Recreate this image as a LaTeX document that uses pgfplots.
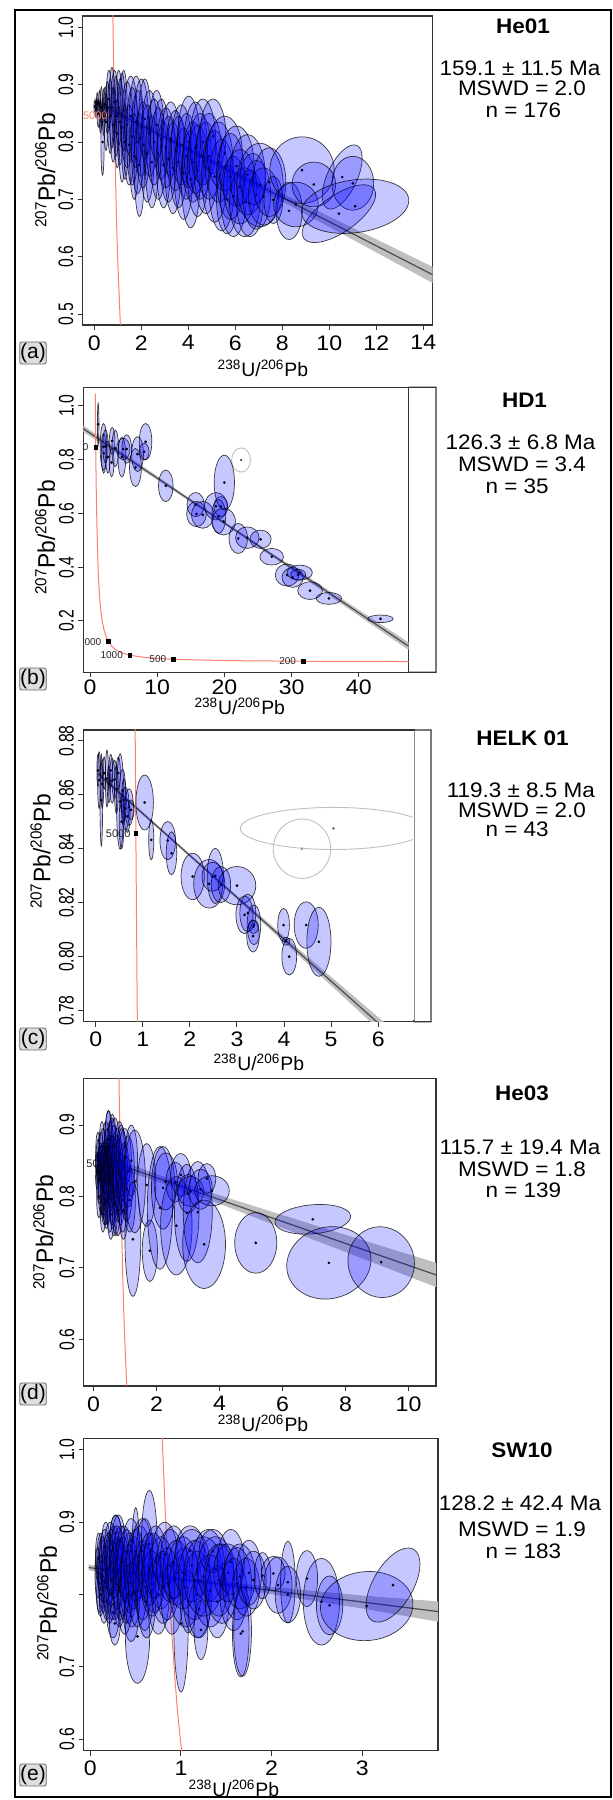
\documentclass[border=0pt]{standalone}
\usepackage{fontspec}
\setmainfont{Liberation Sans}
\usepackage{pgfplots}
\usepackage{pgfplotstable}
\pgfplotsset{compat=1.18}

\definecolor{salmonc}{RGB}{250,128,114}
\definecolor{framec}{gray}{0.2}
\newcommand\fsz[1]{\fontsize{#1}{#1}\selectfont}
\def\ellparse#1/#2/#3\relax{\def\erx{#1}\def\ery{#2}\def\eang{#3}}

% ---------------- concordia (Tera-Wasserburg) ----------------
\pgfplotstableread{
x y
0.78407 1.04607
0.80623 0.97425
0.82925 0.90752
0.85326 0.84568
0.87837 0.78834
0.90453 0.73509
0.93181 0.68552
0.96036 0.63960
0.99507 0.59696
1.1630 0.42521
1.2672 0.36020
1.3869 0.30598
1.5254 0.26066
1.6873 0.22274
1.8797 0.19103
2.111 0.16436
2.3942 0.14194
2.749 0.12305
3.2063 0.10712
3.817 0.09365
4.6733 0.08223
5.959 0.07253
8.105 0.06428
12.40 0.05725
20.99 0.05236
31.73 0.05013
63.97 0.04804
}\concT

\pgfplotstableread{
x y lab
0.85326 0.84568 5000
}\labFive

\pgfplotstableread{
x y lab
0.85326 0.84568 5000
2.749 0.12305 2000
5.959 0.07253 1000
12.40 0.05725 500
31.73 0.05013 200
}\labB

% ---------------- ellipses: x y rx/ry/angle ----------------
\pgfplotstableread{
x y m
0.02 0.862 0.04/0.010/0
0.08 0.858 0.04/0.016/0
0.12 0.866 0.03/0.020/0
0.17 0.850 0.05/0.024/0
0.22 0.868 0.04/0.022/0
0.26 0.846 0.05/0.030/0
0.30 0.860 0.05/0.036/0
0.35 0.800 0.07/0.058/0
0.40 0.852 0.06/0.040/0
0.46 0.866 0.07/0.030/0
0.50 0.835 0.08/0.050/0
0.56 0.860 0.09/0.045/0
0.62 0.875 0.11/0.050/0
0.68 0.845 0.12/0.065/0
0.75 0.860 0.12/0.070/0
0.80 0.830 0.13/0.065/0
0.86 0.870 0.14/0.055/0
0.92 0.845 0.13/0.070/0
0.98 0.815 0.12/0.060/0
1.04 0.860 0.15/0.065/0
1.10 0.835 0.15/0.075/0
1.18 0.825 0.16/0.095/0
1.25 0.855 0.15/0.070/0
1.30 0.800 0.14/0.065/0
1.40 0.830 0.25/0.075/0
1.48 0.795 0.22/0.070/0
1.55 0.845 0.28/0.070/0
1.62 0.810 0.25/0.085/0
1.70 0.775 0.20/0.075/0
1.78 0.835 0.30/0.080/0
1.85 0.800 0.28/0.090/0
1.92 0.760 0.22/0.090/0
2.00 0.825 0.32/0.085/0
2.08 0.795 0.30/0.075/0
2.15 0.840 0.26/0.070/0
2.25 0.780 0.30/0.085/0
2.35 0.815 0.33/0.075/0
2.45 0.765 0.28/0.080/0
2.55 0.800 0.35/0.075/0
2.65 0.830 0.30/0.060/0
2.72 0.780 0.35/0.080/0
2.85 0.805 0.33/0.070/0
2.95 0.760 0.30/0.075/0
3.05 0.790 0.38/0.070/0
3.15 0.770 0.35/0.075/0
3.25 0.805 0.40/0.065/0
3.35 0.755 0.35/0.080/0
3.45 0.785 0.40/0.070/0
3.58 0.765 0.38/0.080/0
3.70 0.795 0.42/0.070/0
3.80 0.745 0.40/0.080/0
3.92 0.775 0.45/0.075/0
4.02 0.800 0.48/0.080/0
4.10 0.735 0.40/0.085/0
4.20 0.765 0.45/0.070/0
4.30 0.790 0.50/0.080/0
4.40 0.750 0.45/0.080/0
4.50 0.775 0.48/0.075/0
4.62 0.800 0.55/0.075/0
4.75 0.755 0.50/0.080/0
4.88 0.775 0.55/0.075/0
5.05 0.810 0.55/0.065/0
5.12 0.740 0.55/0.080/0
5.30 0.765 0.60/0.070/0
5.42 0.725 0.55/0.080/0
5.55 0.780 0.75/0.065/0
5.65 0.700 0.45/0.060/0
5.80 0.740 0.60/0.075/0
5.92 0.705 0.55/0.070/0
6.05 0.758 0.75/0.070/0
6.20 0.722 0.70/0.065/0
6.40 0.695 0.65/0.060/0
6.52 0.743 0.75/0.070/0
6.62 0.693 0.56/0.058/0
6.75 0.735 0.55/0.045/0
6.90 0.708 0.60/0.060/0
7.05 0.725 0.99/0.073/0
7.20 0.705 0.65/0.050/0
7.45 0.730 0.70/0.060/0
7.62 0.699 0.40/0.041/0
8.29 0.680 0.56/0.050/0
8.84 0.751 1.37/0.058/0
8.58 0.691 0.95/0.039/0
9.34 0.726 0.93/0.039/0
10.55 0.739 1.48/0.026/65
11.00 0.728 0.89/0.047/0
10.41 0.675 1.83/0.032/35
11.10 0.688 2.30/0.046/8
}\ellA

\pgfplotstableread{
x y m
1.216 0.932 0.114/0.078/0
2.014 0.848 0.498/0.087/0
2.046 0.824 0.353/0.074/0
2.305 0.850 0.394/0.062/0
2.668 0.810 0.311/0.060/0
3.218 0.790 0.353/0.053/0
3.290 0.870 0.415/0.050/0
3.757 0.842 0.498/0.068/0
4.742 0.810 0.581/0.074/0
4.950 0.840 0.996/0.040/0
5.468 0.840 0.726/0.053/0
6.765 0.771 0.882/0.071/0
7.076 0.821 0.882/0.065/0
8.061 0.830 0.726/0.031/0
8.269 0.867 0.933/0.068/0
11.277 0.703 1.079/0.059/0
15.726 0.633 1.286/0.045/0
15.840 0.598 1.462/0.047/0
16.774 0.595 1.660/0.050/0
18.745 0.627 1.691/0.051/0
19.471 0.626 1.027/0.037/0
19.159 0.589 1.027/0.063/0
19.885 0.570 1.753/0.050/0
19.989 0.715 1.514/0.102/0
22.063 0.507 1.369/0.056/0
23.412 0.510 1.753/0.040/0
25.382 0.504 1.577/0.034/0
27.042 0.439 1.753/0.031/0
29.324 0.371 1.753/0.041/0
30.154 0.362 1.577/0.037/0
31.191 0.380 1.898/0.028/0
30.983 0.372 1.110/0.020/0
32.747 0.313 1.836/0.033/0
35.547 0.284 1.898/0.022/0
43.222 0.208 1.898/0.014/0
}\ellB

\pgfplotstableread{
x y m
22.478 0.799 1.400/0.045/0
}\exB

\pgfplotstableread{
x y m
-0.28 0.857 0.065/0.0058/0
0.074 0.8654 0.033/0.0105/0
0.12 0.858 0.028/0.017/0
0.05 0.869 0.025/0.006/0
0.14 0.864 0.03/0.009/0
0.18 0.868 0.03/0.006/0
0.24 0.866 0.033/0.0105/0
0.28 0.864 0.035/0.007/0
0.32 0.869 0.04/0.006/0
0.35 0.8652 0.058/0.0083/0
0.40 0.8657 0.054/0.0071/0
0.44 0.862 0.04/0.009/0
0.48 0.868 0.045/0.006/0
0.52 0.8575 0.078/0.0177/0
0.55 0.850 0.05/0.010/0
0.57 0.8615 0.062/0.008/0
0.60 0.858 0.05/0.008/0
0.63 0.8549 0.083/0.008/0
0.67 0.852 0.06/0.006/0
0.71 0.8554 0.091/0.0068/0
0.75 0.8544 0.066/0.0037/0
1.04 0.8571 0.186/0.0102/0
1.18 0.8433 0.054/0.0074/0
1.53 0.8430 0.165/0.0071/0
1.61 0.8383 0.111/0.008/0
2.06 0.8297 0.248/0.0086/0
2.41 0.8270 0.330/0.009/0
2.48 0.8296 0.223/0.0054/0
2.54 0.8299 0.173/0.0102/0
2.66 0.8267 0.206/0.0067/0
3.00 0.8263 0.40/0.0071/0
3.16 0.8155 0.182/0.007/0
3.23 0.8162 0.169/0.007/0
3.36 0.8118 0.145/0.0074/0
3.35 0.8111 0.107/0.0025/0
3.34 0.8076 0.132/0.0059/0
3.99 0.8117 0.124/0.0062/0
4.04 0.8057 0.083/0.0015/0
4.11 0.8000 0.157/0.0068/0
4.47 0.8117 0.256/0.0086/0
4.74 0.8055 0.256/0.0128/0
}\ellC

\pgfplotstableread{
x y m
4.38 0.840 0.61/0.011/0
5.05 0.8475 1.98/0.0078/0
}\exC

\pgfplotstableread{
x y m
0.12 0.835 0.06/0.025/0
0.14 0.860 0.07/0.030/0
0.15 0.850 0.07/0.030/0
0.17 0.800 0.07/0.030/0
0.18 0.825 0.08/0.035/0
0.20 0.845 0.08/0.025/0
0.22 0.835 0.09/0.040/0
0.23 0.860 0.09/0.030/0
0.25 0.815 0.10/0.040/0
0.27 0.870 0.09/0.035/0
0.28 0.840 0.10/0.035/0
0.30 0.855 0.12/0.040/0
0.30 0.775 0.08/0.025/0
0.31 0.810 0.10/0.040/0
0.33 0.825 0.10/0.045/0
0.35 0.845 0.12/0.030/0
0.35 0.790 0.10/0.030/0
0.37 0.835 0.11/0.045/0
0.38 0.805 0.10/0.045/0
0.40 0.860 0.13/0.045/0
0.41 0.795 0.10/0.040/0
0.42 0.830 0.12/0.040/0
0.44 0.850 0.12/0.045/0
0.45 0.815 0.12/0.055/0
0.47 0.880 0.10/0.040/0
0.48 0.870 0.13/0.050/0
0.49 0.820 0.13/0.050/0
0.50 0.845 0.14/0.040/0
0.52 0.800 0.12/0.050/0
0.53 0.865 0.12/0.040/0
0.55 0.830 0.15/0.045/0
0.55 0.775 0.11/0.035/0
0.57 0.840 0.13/0.045/0
0.58 0.860 0.14/0.050/0
0.60 0.815 0.13/0.055/0
0.60 0.870 0.12/0.045/0
0.62 0.805 0.13/0.050/0
0.63 0.845 0.15/0.040/0
0.65 0.790 0.12/0.045/0
0.66 0.855 0.14/0.045/0
0.68 0.870 0.15/0.040/0
0.70 0.825 0.16/0.050/0
0.72 0.800 0.13/0.055/0
0.73 0.835 0.15/0.050/0
0.75 0.850 0.16/0.045/0
0.77 0.815 0.14/0.050/0
0.78 0.780 0.12/0.035/0
0.80 0.830 0.17/0.050/0
0.83 0.860 0.16/0.045/0
0.86 0.810 0.15/0.050/0
0.88 0.850 0.16/0.050/0
0.90 0.840 0.18/0.055/0
0.93 0.795 0.15/0.045/0
0.95 0.780 0.14/0.040/0
0.97 0.825 0.18/0.050/0
1.00 0.855 0.20/0.040/0
1.05 0.810 0.18/0.045/0
1.10 0.835 0.20/0.050/0
1.15 0.795 0.18/0.045/0
1.20 0.850 0.20/0.050/0
1.25 0.740 0.25/0.080/0
1.31 0.821 0.34/0.072/0
1.69 0.816 0.29/0.058/0
1.79 0.724 0.24/0.043/0
2.11 0.784 0.40/0.086/0
2.21 0.812 0.37/0.058/0
2.29 0.821 0.37/0.040/0
2.60 0.820 0.30/0.028/0
2.63 0.759 0.50/0.069/0
2.77 0.830 0.32/0.030/0
2.96 0.777 0.39/0.068/0
3.00 0.804 0.32/0.027/0
3.08 0.807 0.42/0.021/0
3.31 0.778 0.46/0.071/0
3.40 0.810 0.37/0.028/0
3.51 0.733 0.68/0.062/0
3.60 0.825 0.28/0.021/0
3.76 0.808 0.55/0.021/0
5.15 0.735 0.667/0.0425/0
6.96 0.768 1.206/0.0203/5
7.47 0.707 1.35/0.050/15
9.13 0.708 1.05/0.0497/15
}\ellD

\pgfplotstableread{
x y m
0.08 0.830 0.03/0.035/0
0.09 0.850 0.035/0.035/0
0.10 0.815 0.04/0.040/0
0.11 0.800 0.04/0.030/0
0.12 0.845 0.05/0.040/0
0.13 0.835 0.05/0.045/0
0.14 0.825 0.05/0.050/0
0.15 0.790 0.05/0.030/0
0.16 0.850 0.06/0.040/0
0.17 0.865 0.05/0.035/0
0.18 0.810 0.06/0.045/0
0.19 0.825 0.06/0.050/0
0.20 0.835 0.07/0.050/0
0.21 0.800 0.06/0.040/0
0.22 0.860 0.07/0.040/0
0.23 0.845 0.07/0.045/0
0.24 0.820 0.07/0.055/0
0.25 0.775 0.07/0.035/0
0.26 0.845 0.08/0.050/0
0.27 0.815 0.07/0.050/0
0.27 0.760 0.06/0.030/0
0.28 0.870 0.07/0.040/0
0.28 0.885 0.06/0.025/0
0.29 0.850 0.08/0.045/0
0.30 0.830 0.08/0.050/0
0.31 0.875 0.07/0.035/0
0.32 0.805 0.07/0.050/0
0.33 0.820 0.08/0.055/0
0.34 0.850 0.09/0.045/0
0.36 0.825 0.08/0.055/0
0.37 0.845 0.09/0.050/0
0.38 0.790 0.08/0.045/0
0.39 0.810 0.08/0.050/0
0.40 0.840 0.10/0.050/0
0.42 0.815 0.09/0.055/0
0.43 0.830 0.09/0.055/0
0.45 0.860 0.10/0.045/0
0.45 0.770 0.08/0.035/0
0.46 0.800 0.09/0.045/0
0.48 0.830 0.10/0.050/0
0.50 0.860 0.04/0.060/0
0.50 0.840 0.10/0.050/0
0.52 0.742 0.134/0.065/0
0.52 0.805 0.10/0.050/0
0.55 0.845 0.12/0.050/0
0.57 0.860 0.11/0.045/0
0.58 0.820 0.11/0.055/0
0.60 0.865 0.09/0.040/0
0.60 0.810 0.10/0.060/0
0.62 0.790 0.10/0.050/0
0.65 0.870 0.087/0.074/0
0.65 0.835 0.12/0.050/0
0.68 0.815 0.12/0.045/0
0.70 0.830 0.13/0.055/0
0.72 0.845 0.13/0.050/0
0.75 0.800 0.12/0.055/0
0.78 0.830 0.14/0.050/0
0.80 0.810 0.13/0.050/0
0.82 0.855 0.14/0.045/0
0.85 0.815 0.13/0.050/0
0.88 0.840 0.15/0.050/0
0.90 0.795 0.12/0.050/0
0.92 0.845 0.15/0.050/0
0.95 0.830 0.15/0.045/0
1.00 0.760 0.08/0.095/0
1.02 0.830 0.17/0.050/0
1.05 0.810 0.18/0.055/0
1.08 0.790 0.09/0.043/0
1.10 0.860 0.16/0.035/0
1.12 0.840 0.20/0.050/0
1.15 0.820 0.18/0.055/0
1.18 0.800 0.16/0.060/0
1.20 0.780 0.12/0.040/0
1.22 0.751 0.076/0.041/0
1.25 0.825 0.22/0.055/0
1.30 0.840 0.18/0.050/0
1.32 0.805 0.18/0.050/0
1.35 0.860 0.15/0.030/0
1.38 0.835 0.20/0.045/0
1.40 0.790 0.13/0.050/0
1.42 0.820 0.17/0.050/0
1.45 0.815 0.18/0.055/0
1.52 0.830 0.16/0.040/0
1.55 0.845 0.15/0.045/0
1.58 0.800 0.15/0.050/0
1.62 0.815 0.16/0.050/0
1.65 0.825 0.17/0.045/0
1.66 0.746 0.092/0.060/0
1.68 0.749 0.098/0.062/0
1.72 0.810 0.15/0.040/0
1.75 0.830 0.14/0.045/0
1.80 0.820 0.14/0.040/0
1.90 0.826 0.092/0.032/0
2.02 0.829 0.13/0.024/0
2.07 0.813 0.156/0.039/0
2.18 0.817 0.081/0.0565/0
2.18 0.800 0.14/0.039/0
2.39 0.822 0.118/0.0387/0
2.55 0.790 0.20/0.060/0
2.64 0.785 0.145/0.0406/0
3.05 0.784 0.511/0.0477/5
3.34 0.813 0.456/0.0277/60
}\ellE

% ---------------- styles ----------------
\pgfplotsset{
  tw/.style={
    scale only axis, anchor=north west, clip marker paths=true,
    axis line style={framec, line width=0.6pt},
    tick align=outside, tick pos=left, major tick length=2.5pt,
    every tick/.style={framec, line width=0.5pt},
    xticklabel style={font=\fsz{10.5}, inner sep=0pt, anchor=north, yshift=-2.5pt, xscale=1.1},
    yticklabel style={font=\fsz{10.5}, inner sep=0pt, xshift=-2pt, rotate=90, xscale=0.75, anchor=south},
    every axis x label/.style={font=\fsz{9.7}, inner sep=0pt, anchor=base},
    every axis y label/.style={font=\fsz{12}, inner sep=0pt, rotate=90, xscale=0.95, anchor=base},
    xlabel={\textsuperscript{238}U/\textsuperscript{206}Pb},
    ylabel={\textsuperscript{207}Pb/\textsuperscript{206}Pb},
  },
  ellblue/.style 2 args={
    only marks, scatter, point meta=explicit symbolic, mark=*, mark size=0.45pt,
    mark options={draw=black, fill=black},
    scatter/@post marker code/.code={},
    scatter/@pre marker code/.code={%
      \expandafter\ellparse\pgfplotspointmeta\relax
      \pgfmathsetmacro\rxpt{\erx*#1}%
      \pgfmathsetmacro\rypt{\ery*#2}%
      \pgfscope
      \pgftransformrotate{\eang}%
      \pgfpathellipse{\pgfpointorigin}{\pgfpoint{\rxpt pt}{0pt}}{\pgfpoint{0pt}{\rypt pt}}%
      \pgfsetfillcolor{blue}\pgfsetfillopacity{0.22}%
      \pgfsetstrokecolor{black}\pgfsetstrokeopacity{0.75}%
      \pgfsetlinewidth{0.35pt}%
      \pgfusepath{fill,stroke}%
      \endpgfscope
    },
  },
  ellgray/.style 2 args={
    only marks, scatter, point meta=explicit symbolic, mark=*, mark size=0.35pt,
    mark options={draw=black!70, fill=black!70},
    scatter/@post marker code/.code={},
    scatter/@pre marker code/.code={%
      \expandafter\ellparse\pgfplotspointmeta\relax
      \pgfmathsetmacro\rxpt{\erx*#1}%
      \pgfmathsetmacro\rypt{\ery*#2}%
      \pgfscope
      \pgftransformrotate{\eang}%
      \pgfpathellipse{\pgfpointorigin}{\pgfpoint{\rxpt pt}{0pt}}{\pgfpoint{0pt}{\rypt pt}}%
      \pgfsetstrokecolor{black!25}%
      \pgfsetlinewidth{0.45pt}%
      \pgfusepath{stroke}%
      \endpgfscope
    },
  },
  band/.style={draw=none, fill=black!25},
  regline/.style={black!70, line width=0.6pt},
  conc/.style={salmonc, line width=0.5pt},
  conclab/.style={only marks, mark=square*, mark size=0.9pt, mark options={black},
    point meta=explicit symbolic, nodes near coords,
    nodes near coords style={anchor=east, xshift=-2.5pt, inner sep=0pt, font=\fsz{5.5}, text=black!85}},
}

\begin{document}
\begin{tikzpicture}
\useasboundingbox (0,0) rectangle (306.5pt,900pt);
\draw[line width=1.1pt] (7.5pt,895pt) rectangle (305.5pt,1.5pt);

% ================= (a) =================
\begin{axis}[tw, at={(41.35pt,892pt)}, width=175pt, height=154.5pt,
  xmin=-0.494, xmax=14.40, ymin=0.481, ymax=1.0197,
  xtick={0,2,4,6,8,10,12,14}, xticklabels={0,2,4,6,8,10,12,14},
  ytick={0.5,0.6,0.7,0.8,0.9,1.0}, yticklabels={0.5,0.6,0.7,0.8,0.9,1.0},
  xlabel style={at={(axis description cs:0.515,-0.168)}},
  ylabel style={at={(axis description cs:-0.079,0.5)}},
]
\addplot[band] coordinates {(0,0.8775) (2,0.834) (4,0.791) (6,0.750) (8,0.710) (10,0.670) (12,0.6305) (14.40,0.5822)
  (14.40,0.5542) (12,0.6075) (10,0.652) (8,0.696) (6,0.740) (4,0.783) (2,0.824) (0,0.8645)};
\addplot[regline] coordinates {(0,0.871) (14.40,0.5686)};
\addplot[conc] table {\concT};
\addplot[ellblue={11.750}{286.8}] table[meta=m] {\ellA};
\addplot[conclab, mark=none, nodes near coords style={text=salmonc, xshift=-0.7pt}] table[meta=lab] {\labFive};
\end{axis}
\node[anchor=base, font=\fsz{10.5}\bfseries, xscale=1.07] at (261.5pt,883.25pt) {He01};
\node[anchor=base, font=\fsz{10.5}, xscale=1.07] at (260pt,862.1pt) {159.1 ± 11.5 Ma};
\node[anchor=base, font=\fsz{10.5}, xscale=1.07] at (261pt,852.1pt) {MSWD = 2.0};
\node[anchor=base west, font=\fsz{10.5}, xscale=1.07] at (239pt,841.25pt) {n = 176};
\node[draw=black!60, fill=black!13, rounded corners=1pt, minimum width=13.25pt, minimum height=11pt, inner sep=0pt, font=\fsz{10.5}] at (16.5pt,723.5pt) {(a)};

% ================= (b) =================
\begin{axis}[tw, name=axb, at={(41.65pt,706.35pt)}, width=162.65pt, height=142.5pt,
  xmin=-0.997, xmax=47.41, ymin=0.0091, ymax=1.0696,
  xtick={0,10,20,30,40}, xticklabels={0,10,20,30,40},
  ytick={0.2,0.4,0.6,0.8,1.0}, yticklabels={0.2,0.4,0.6,0.8,1.0},
  xticklabel style={yshift=1.4pt},
  xlabel style={at={(axis description cs:0.481,-0.149)}},
  ylabel style={at={(axis description cs:-0.087,0.473)}},
]
\addplot[band] coordinates {(-0.997,0.92766) (10,0.73881) (20,0.56963) (30,0.40445) (40,0.24127) (47.41,0.12039)
  (47.41,0.09239) (40,0.21927) (30,0.39045) (20,0.55963) (10,0.72481) (-0.997,0.90366)};
\addplot[regline] coordinates {(-0.997,0.91566) (47.41,0.10639)};
\addplot[conc] table {\concT};
\addplot[conclab, nodes near coords style={font=\fsz{5}, xshift=-0.9pt}] table[meta=lab] {\labB};
\addplot[ellgray={3.360}{134.37}] table[meta=m] {\exB};
\addplot[ellblue={3.360}{134.37}] table[meta=m] {\ellB};
\end{axis}
\draw[framec, line width=0.6pt] (axb.north east) -- ++(13.7pt,0) -- ++(0,-142.5pt) -- (axb.south east);
\node[anchor=base, font=\fsz{10.5}\bfseries, xscale=1.07] at (262.25pt,696.25pt) {HD1};
\node[anchor=base, font=\fsz{10.5}, xscale=1.07] at (260.3pt,675.4pt) {126.3 ± 6.8 Ma};
\node[anchor=base, font=\fsz{10.5}, xscale=1.07] at (261pt,664.1pt) {MSWD = 3.4};
\node[anchor=base west, font=\fsz{10.5}, xscale=1.07] at (239pt,653.25pt) {n = 35};
\node[draw=black!60, fill=black!13, rounded corners=1pt, minimum width=13.25pt, minimum height=11pt, inner sep=0pt, font=\fsz{10.5}] at (16.5pt,560.5pt) {(b)};

% ================= (c) =================
\begin{axis}[tw, name=axc, at={(41.65pt,535pt)}, width=165.35pt, height=145.85pt,
  xmin=-0.263, xmax=6.759, ymin=0.7759, ymax=0.884,
  xtick={0,1,2,3,4,5,6}, xticklabels={0,1,2,3,4,5,6},
  ytick={0.78,0.80,0.82,0.84,0.86,0.88}, yticklabels={0.78,0.80,0.82,0.84,0.86,0.88},
  xlabel style={at={(axis description cs:0.531,-0.168)}},
  ylabel style={at={(axis description cs:-0.0998,0.583)}},
]
\addplot[band] coordinates {(0.05,0.86867) (1,0.85362) (2,0.83799) (3,0.82266) (4,0.80753) (5,0.7925) (6.2,0.77456)
  (6.2,0.76996) (5,0.7893) (4,0.80533) (3,0.82126) (2,0.83699) (1,0.85242) (0.05,0.86687)};
\addplot[regline] coordinates {(0.05,0.86777) (6.2,0.77226)};
\addplot[conc] table {\concT};
\addplot[ellgray={23.548}{1349.2}] table[meta=m] {\exC};
\addplot[ellblue={23.548}{1349.2}] table[meta=m] {\ellC};
\addplot[conclab] table[meta=lab] {\labFive};
\end{axis}
\draw[white, line width=0.9pt] ([yshift=-0.6pt]axc.north east) -- ([yshift=0.6pt]axc.south east);
\draw[black!45, line width=0.45pt] (axc.north east) -- (axc.south east);
\draw[framec, line width=0.6pt] (axc.north east) -- ++(8.5pt,0) -- ++(0,-145.85pt) -- (axc.south east);
\node[anchor=base, font=\fsz{10.5}\bfseries, xscale=1.07] at (261.25pt,527.25pt) {HELK 01};
\node[anchor=base, font=\fsz{10.5}, xscale=1.07] at (260.4pt,501.25pt) {119.3 ± 8.5 Ma};
\node[anchor=base, font=\fsz{10.5}, xscale=1.07] at (261pt,491.25pt) {MSWD = 2.0};
\node[anchor=base west, font=\fsz{10.5}, xscale=1.07] at (239pt,481.6pt) {n = 43};
\node[draw=black!60, fill=black!13, rounded corners=1pt, minimum width=13.25pt, minimum height=11pt, inner sep=0pt, font=\fsz{10.5}] at (16.5pt,380.5pt) {(c)};

% ================= (d) =================
\begin{axis}[tw, at={(41.85pt,360.85pt)}, width=176.15pt, height=153.85pt,
  xmin=-0.31, xmax=10.87, ymin=0.5346, ymax=0.9654,
  xtick={0,2,4,6,8,10}, xticklabels={0,2,4,6,8,10},
  ytick={0.6,0.7,0.8,0.9}, yticklabels={0.6,0.7,0.8,0.9},
  xlabel style={at={(axis description cs:0.509,-0.1485)}},
  ylabel style={at={(axis description cs:-0.0871,0.5)}},
]
\addplot[band] coordinates {(0.05,0.8628) (1,0.8477) (2,0.8313) (4,0.8016) (6,0.7739) (8,0.7462) (10.87,0.7071)
  (10.87,0.6731) (8,0.7222) (6,0.7559) (4,0.7896) (2,0.8213) (1,0.8357) (0.05,0.8508)};
\addplot[regline] coordinates {(0.05,0.8562) (10.87,0.6901)};
\addplot[conc] table {\concT};
\addplot[conclab, nodes near coords style={xshift=-2pt}] table[meta=lab] {\labFive};
\addplot[ellblue={15.756}{357.13}] table[meta=m] {\ellD};
\end{axis}
\node[anchor=base, font=\fsz{10.5}\bfseries, xscale=1.07] at (261pt,349.9pt) {He03};
\node[anchor=base, font=\fsz{10.5}, xscale=1.07] at (260pt,322.9pt) {115.7 ± 19.4 Ma};
\node[anchor=base, font=\fsz{10.5}, xscale=1.07] at (261pt,311.6pt) {MSWD = 1.8};
\node[anchor=base west, font=\fsz{10.5}, xscale=1.07] at (239pt,301.25pt) {n = 139};
\node[draw=black!60, fill=black!13, rounded corners=1pt, minimum width=13.25pt, minimum height=11pt, inner sep=0pt, font=\fsz{10.5}] at (16.5pt,203pt) {(d)};

% ================= (e) =================
\begin{axis}[tw, at={(41.85pt,180.85pt)}, width=177.15pt, height=156.2pt,
  xmin=-0.074, xmax=3.837, ymin=0.584, ymax=1.016,
  xtick={0,1,2,3}, xticklabels={0,1,2,3},
  ytick={0.6,0.7,0.8,0.9,1.0}, yticklabels={0.6,0.7,,0.9,1.0},
  xlabel style={at={(axis description cs:0.424,-0.147)}},
  ylabel style={at={(axis description cs:-0.0754,0.472)}},
]
\addplot[band] coordinates {(-0.02,0.8413) (1,0.8242) (2,0.8104) (3,0.7986) (3.837,0.7904)
  (3.837,0.7624) (3,0.7806) (2,0.8004) (1,0.8182) (-0.02,0.8333)};
\addplot[regline] coordinates {(-0.02,0.8373) (3.837,0.7764)};
\addplot[conc] table {\concT};
\addplot[ellblue={45.295}{361.57}] table[meta=m] {\ellE};
\end{axis}
\node[anchor=base, font=\fsz{10.5}\bfseries, xscale=1.07] at (261pt,171.25pt) {SW10};
\node[anchor=base, font=\fsz{10.5}, xscale=1.07] at (260pt,144.6pt) {128.2 ± 42.4 Ma};
\node[anchor=base, font=\fsz{10.5}, xscale=1.07] at (261pt,131.6pt) {MSWD = 1.9};
\node[anchor=base west, font=\fsz{10.5}, xscale=1.07] at (239pt,120.75pt) {n = 183};
\node[draw=black!60, fill=black!13, rounded corners=1pt, minimum width=13.25pt, minimum height=11pt, inner sep=0pt, font=\fsz{10.5}] at (16.5pt,12.5pt) {(e)};
\end{tikzpicture}
\end{document}
